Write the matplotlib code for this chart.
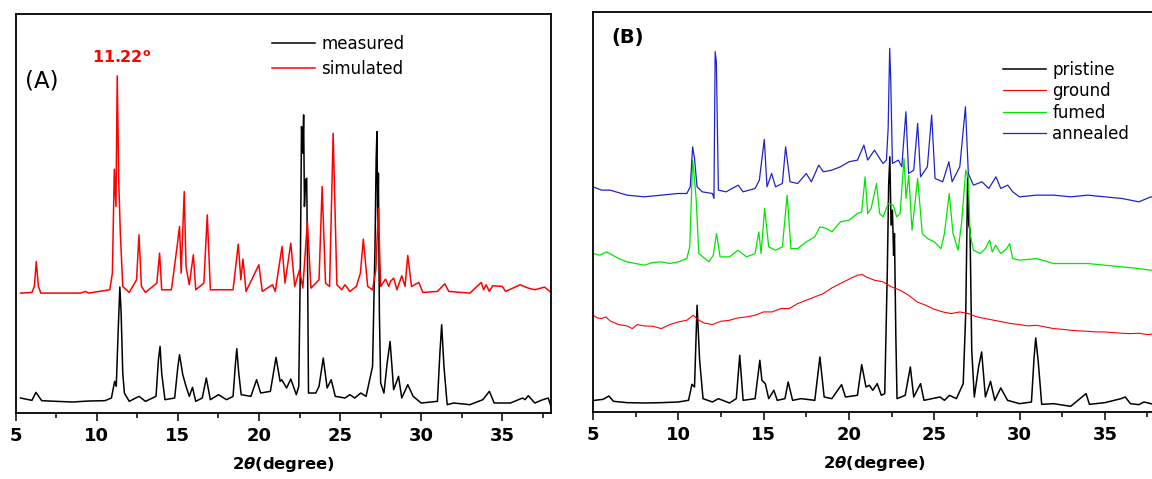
import matplotlib
matplotlib.use("Agg")
import matplotlib.pyplot as plt

plt.rcParams['font.family'] = ['DejaVu Sans']
plt.rcParams['mathtext.fontset'] = 'custom'
plt.rcParams['mathtext.rm'] = 'DejaVu Sans:bold'
plt.rcParams['mathtext.it'] = 'DejaVu Sans:italic:bold'
plt.rcParams['mathtext.bf'] = 'DejaVu Sans:bold'

# ---------------- Panel A data (2theta, intensity a.u.) ----------------
a_meas_x = [5.3, 6.0, 6.25, 6.6, 7.5, 8.5, 9.5, 10.5, 10.9, 11.1, 11.2, 11.32, 11.42, 11.5, 11.6, 11.7, 12.0,
            12.6, 13.0, 13.65, 13.8, 13.9, 14.0, 14.2, 14.8, 15.0, 15.1, 15.3, 15.5, 15.7, 15.9, 16.1, 16.5, 16.75,
            17.0, 17.5, 18.0, 18.4, 18.55, 18.63, 18.75, 18.9, 19.5, 19.85, 20.1, 20.7, 21.05, 21.3, 21.4, 21.7,
            21.96, 22.3, 22.45, 22.55, 22.62, 22.7, 22.75, 22.8, 22.87, 22.94, 23.0, 23.05, 23.5,
            23.7, 23.96, 24.2, 24.45, 24.7, 25.3, 25.6, 25.9, 26.27, 26.6, 27.0, 27.15, 27.22,
            27.27, 27.32, 27.36, 27.42, 27.5, 27.7, 27.9, 28.08, 28.3, 28.6, 28.8, 29.17, 29.5,
            30.0, 31.0, 31.15, 31.26, 31.4, 31.6, 32.0, 33.0, 33.8, 34.2, 34.5, 35.5, 36.25, 36.4,
            36.6, 37.0, 37.5, 37.83, 38.0]
a_meas_y = [45, 38, 62, 37, 35, 33, 36, 37, 45, 95, 80, 250, 378, 300, 120, 60, 35,
            50, 35, 50, 160, 200, 120, 40, 45, 140, 175, 115, 80, 50, 77, 35, 45, 105,
            40, 55, 40, 50, 150, 193, 120, 55, 50, 100, 60, 65, 167, 95, 100, 75,
            102, 55, 80, 450, 860, 780, 895, 620, 700, 705, 400, 60, 60,
            80, 165, 75, 100, 50, 45, 55, 45, 60, 50, 140, 500, 760,
            845, 560, 720, 300, 90, 60, 150, 215, 70, 110, 45, 85, 50,
            30, 35, 180, 265, 140, 25, 30, 25, 40, 65, 30, 30, 45, 40,
            52, 30, 40, 45, 20]

a_sim_x = [5.3, 6.0, 6.15, 6.27, 6.4, 6.55, 9.0, 9.3, 9.5, 10.8, 10.96, 11.08, 11.18, 11.26, 11.35,
           11.45, 11.6, 12.0, 12.45, 12.6, 12.75, 13.0, 13.7, 13.87, 14.0, 14.6, 14.95, 15.1, 15.2,
           15.39, 15.5, 15.7, 15.95, 16.1, 16.6, 16.81, 17.0, 18.4, 18.72, 18.88, 19.01, 19.2,
           19.99, 20.2, 20.83, 21.0, 21.42, 21.6, 21.96, 22.2, 22.5, 22.7, 22.98, 23.2, 23.7,
           23.89, 24.1, 24.35, 24.57, 24.8, 25.1, 25.3, 25.6, 26.0, 26.25, 26.43, 26.7, 27.0,
           27.2, 27.36, 27.5, 27.8, 28.0, 28.1, 28.3, 28.5, 28.8, 29.0, 29.17, 29.4, 29.85, 30.1,
           31.0, 31.45, 31.7, 33.0, 33.7, 33.85, 34.0, 34.2, 34.4, 35.0, 35.2, 36.1, 36.6, 37.0,
           37.6, 38.0]
a_sim_y = [360, 362, 380, 455, 380, 360, 360, 365, 360, 370, 420, 732, 620, 1012, 700,
           540, 380, 362, 400, 535, 380, 362, 390, 480, 370, 370, 500, 560, 420,
           665, 440, 385, 475, 370, 390, 595, 370, 370, 507, 400, 462, 365,
           445, 365, 385, 365, 500, 390, 510, 380, 430, 375, 575, 375, 400,
           680, 390, 380, 840, 385, 370, 385, 365, 380, 420, 522, 380, 370,
           430, 615, 380, 402, 380, 395, 405, 370, 412, 380, 473, 380, 392, 362,
           365, 388, 365, 360, 392, 370, 385, 365, 382, 380, 365, 385, 375, 370,
           378, 362]

# ---------------- Panel B data ----------------
b_pri_x = [5.1, 5.6, 5.93, 6.2, 7.0, 8.0, 9.0, 10.0, 10.6, 10.8, 10.95, 11.1, 11.25, 11.45, 12.0,
           12.35, 13.0, 13.4, 13.6, 13.8, 14.5, 14.78, 14.9, 15.1, 15.3, 15.6, 15.8, 16.25, 16.44,
           16.7, 17.2, 18.0, 18.3, 18.55, 19.0, 19.57, 19.8, 20.5, 20.75, 21.0, 21.2, 21.4, 21.66,
           21.9, 22.1, 22.25, 22.33, 22.4, 22.47, 22.55, 22.62, 22.67, 22.75, 22.82, 23.3, 23.6,
           23.8, 24.2, 24.4, 25.34, 25.6, 25.9, 26.3, 26.7, 26.85, 26.96, 27.03, 27.1, 27.2,
           27.35, 27.6, 27.78, 28.0, 28.3, 28.55, 28.9, 29.3, 30.0, 30.7, 30.85, 30.95, 31.1,
           31.3, 32.0, 33.0, 33.9, 34.1, 35.0, 35.95, 36.2, 36.5, 37.0, 37.3, 37.7, 38.0]
b_pri_y = [35, 38, 48, 32, 28, 27, 28, 30, 35, 83, 75, 320, 155, 40, 30,
           40, 27, 40, 170, 35, 40, 155, 95, 85, 40, 65, 35, 40, 90,
           35, 40, 35, 165, 45, 40, 82, 45, 50, 142, 75, 80, 65, 85,
           50, 55, 420, 680, 765, 560, 605, 470, 535, 230, 40, 50, 135,
           45, 85, 35, 45, 35, 50, 40, 85, 300, 710, 560, 545, 185,
           45, 135, 180, 45, 92, 35, 72, 35, 25, 30, 160, 222, 150,
           23, 25, 17, 55, 23, 28, 40, 45, 25, 22, 30, 25, 20]

b_gro_x = [5.0, 5.25, 5.5, 5.75, 6.0, 6.5, 7.0, 7.3, 7.6, 8.0, 8.5, 9.0, 9.5, 10.0, 10.5, 10.88, 11.2,
           11.5, 12.0, 12.5, 13.0, 13.5, 14.0, 14.5, 15.0, 15.5, 16.0, 16.5, 17.0, 17.5, 18.0, 18.5,
           19.0, 19.5, 20.0, 20.5, 20.8, 21.0, 21.5, 22.0, 22.5, 23.0, 23.5, 24.0, 24.5, 25.0,
           25.5, 26.0, 26.5, 27.0, 27.5, 28.0, 28.5, 29.0, 29.5, 30.0, 30.5, 31.0, 31.5, 32.0,
           32.5, 33.0, 33.5, 34.0, 34.5, 35.0, 35.5, 36.0, 36.5, 37.0, 37.5, 38.0]
b_gro_y = [290, 282, 280, 285, 273, 262, 258, 250, 262, 258, 257, 250, 262, 270, 275, 290, 275,
           267, 262, 272, 275, 282, 285, 290, 300, 300, 310, 310, 325, 335, 345, 355,
           372, 385, 398, 410, 412, 405, 395, 390, 375, 365, 350, 330, 320, 308,
           300, 295, 300, 295, 285, 280, 275, 270, 265, 262, 258, 260, 255, 250,
           248, 245, 243, 242, 240, 240, 238, 236, 235, 236, 232, 235]

b_fum_x = [5.0, 5.4, 5.8, 6.5, 7.0, 7.5, 8.0, 8.5, 9.0, 9.5, 10.0, 10.5, 10.67, 10.84, 10.95,
           11.05, 11.2, 11.8, 12.05, 12.24, 12.45, 13.0, 13.5, 14.0, 14.5, 14.72, 14.85, 15.06,
           15.3, 15.7, 16.1, 16.38, 16.6, 17.0, 17.5, 18.0, 18.3, 18.7, 19.0, 19.5, 20.0, 20.5,
           20.75, 20.95, 21.1, 21.3, 21.62, 21.8, 22.0, 22.3, 22.6, 22.8, 23.0, 23.23, 23.35,
           23.51, 23.7, 24.03, 24.3, 24.6, 25.0, 25.4, 25.6, 25.88, 26.1, 26.4, 26.6, 26.85,
           27.0, 27.1, 27.3, 27.7, 28.0, 28.25, 28.4, 28.6, 28.9, 29.25, 29.42, 29.6, 30.0,
           31.0, 32.0, 33.0, 34.0, 35.0, 36.0, 37.0, 37.7, 38.0]
b_fum_y = [475, 470, 480, 460, 450, 445, 440, 448, 450, 445, 450, 460, 495, 755, 700,
           635, 475, 450, 470, 535, 465, 465, 485, 465, 475, 540, 475, 610,
           495, 485, 495, 650, 490, 490, 510, 525, 555, 550, 540, 570, 575, 595,
           600, 705, 595, 610, 685, 595, 585, 625, 620, 585, 595, 760, 640,
           710, 545, 700, 535, 520, 510, 490, 535, 655, 535, 485, 565, 725,
           700, 535, 485, 475, 490, 515, 480, 500, 475, 490, 505, 460, 455,
           460, 445, 445, 445, 440, 435, 430, 425, 428]

b_ann_x = [5.0, 5.5, 6.0, 7.0, 8.0, 9.0, 10.0, 10.5, 10.7, 10.84, 10.95, 11.1, 11.4, 12.0, 12.09,
           12.16, 12.23, 12.35, 12.8, 13.51, 13.8, 14.5, 14.75, 15.04, 15.2, 15.47, 15.7, 16.1,
           16.29, 16.55, 17.0, 17.5, 17.8, 18.23, 18.5, 19.0, 19.5, 20.0, 20.5, 20.88, 21.1, 21.5,
           21.8, 22.0, 22.2, 22.3, 22.39, 22.45, 22.55, 22.9, 23.1, 23.34, 23.5, 23.8, 24.03,
           24.2, 24.6, 24.85, 25.05, 25.5, 25.86, 26.05, 26.5, 26.83, 27.0, 27.3, 27.8, 28.2,
           28.62, 28.9, 29.31, 29.6, 30.0, 31.0, 32.0, 33.0, 34.0, 35.0, 36.0, 37.0, 37.7, 38.0]
b_ann_y = [675, 665, 665, 650, 645, 650, 655, 655, 675, 795, 760, 675, 660, 655, 640,
           1080, 1050, 665, 660, 680, 660, 670, 695, 817, 675, 715, 675, 685,
           795, 690, 685, 715, 690, 740, 720, 725, 735, 750, 755, 800, 755, 785,
           760, 745, 755, 850, 1090, 1000, 745, 755, 735, 900, 715, 725, 865,
           705, 735, 890, 700, 690, 750, 690, 735, 915, 715, 680, 690, 670,
           705, 670, 680, 660, 645, 650, 650, 645, 650, 645, 640, 630, 645, 640]

a_labels = ['measured', 'simulated']
b_labels = ['pristine', 'ground', 'fumed', 'annealed']
xticks = [5, 10, 15, 20, 25, 30, 35]

W, H = 1152, 479
fig = plt.figure(figsize=(W / 100, H / 100), dpi=100)


def px_axes(l, t, r, b):
    return fig.add_axes([l / W, 1 - b / H, (r - l) / W, (b - t) / H])


def style(ax):
    ax.set_xlim(5, 38)
    ax.set_xticks(xticks)
    ax.set_xticks([x + 2.5 for x in range(5, 38, 5)], minor=True)
    ax.set_yticks([])
    ax.tick_params(axis='x', which='major', direction='out', length=6, width=1.1,
                   labelsize=13, pad=4)
    ax.tick_params(axis='x', which='minor', direction='out', length=3.5, width=1.1)
    for lab in ax.get_xticklabels():
        lab.set_fontweight('bold')
    for s in ax.spines.values():
        s.set_linewidth(1.3)
    ax.set_xlabel(r'2$\mathit{\theta}$(degree)', fontsize=11.8, fontweight='bold', labelpad=7)


# Panel A
axA = px_axes(15.7, 14, 551, 413)
axA.plot(a_meas_x, a_meas_y, color='black', lw=1.1, label=a_labels[0])
axA.plot(a_sim_x, a_sim_y, color='#ff0000', lw=1.1, label=a_labels[1])
axA.set_ylim(0, 1198)
style(axA)
axA.text(0.017, 0.833, '(A)', transform=axA.transAxes, fontsize=16.5, va='center', ha='left')
axA.text(11.5, 1050, r'11.22$^{\mathrm{o}}$', color='#ff0000', fontsize=11.5, fontweight='bold',
         ha='center', va='baseline')
axA.legend(loc='upper left', bbox_to_anchor=(272 / W, 1 - 35 / H),
           bbox_transform=fig.transFigure, frameon=False, fontsize=12,
           handlelength=2.6, handletextpad=0.35, labelspacing=0.42, borderpad=0, borderaxespad=0)

# Panel B
axB = px_axes(593, 12, 1156, 412)
axB.plot(b_pri_x, b_pri_y, color='black', lw=1.1, label=b_labels[0])
axB.plot(b_gro_x, b_gro_y, color='#ff0000', lw=0.8, label=b_labels[1])
axB.plot(b_fum_x, b_fum_y, color='#00e600', lw=0.9, label=b_labels[2])
axB.plot(b_ann_x, b_ann_y, color='#2222cc', lw=0.9, label=b_labels[3])
axB.set_ylim(0, 1199)
style(axB)
axB.spines['right'].set_visible(False)
axB.text(0.032, 0.935, '(B)', transform=axB.transAxes, fontsize=14, fontweight='bold',
         va='center', ha='left')
axB.legend(loc='upper left', bbox_to_anchor=(1003 / W, 1 - 61 / H),
           bbox_transform=fig.transFigure, frameon=False, fontsize=12,
           handlelength=2.6, handletextpad=0.35, labelspacing=0.2, borderpad=0, borderaxespad=0)

fig.savefig('out.png', dpi=100)
